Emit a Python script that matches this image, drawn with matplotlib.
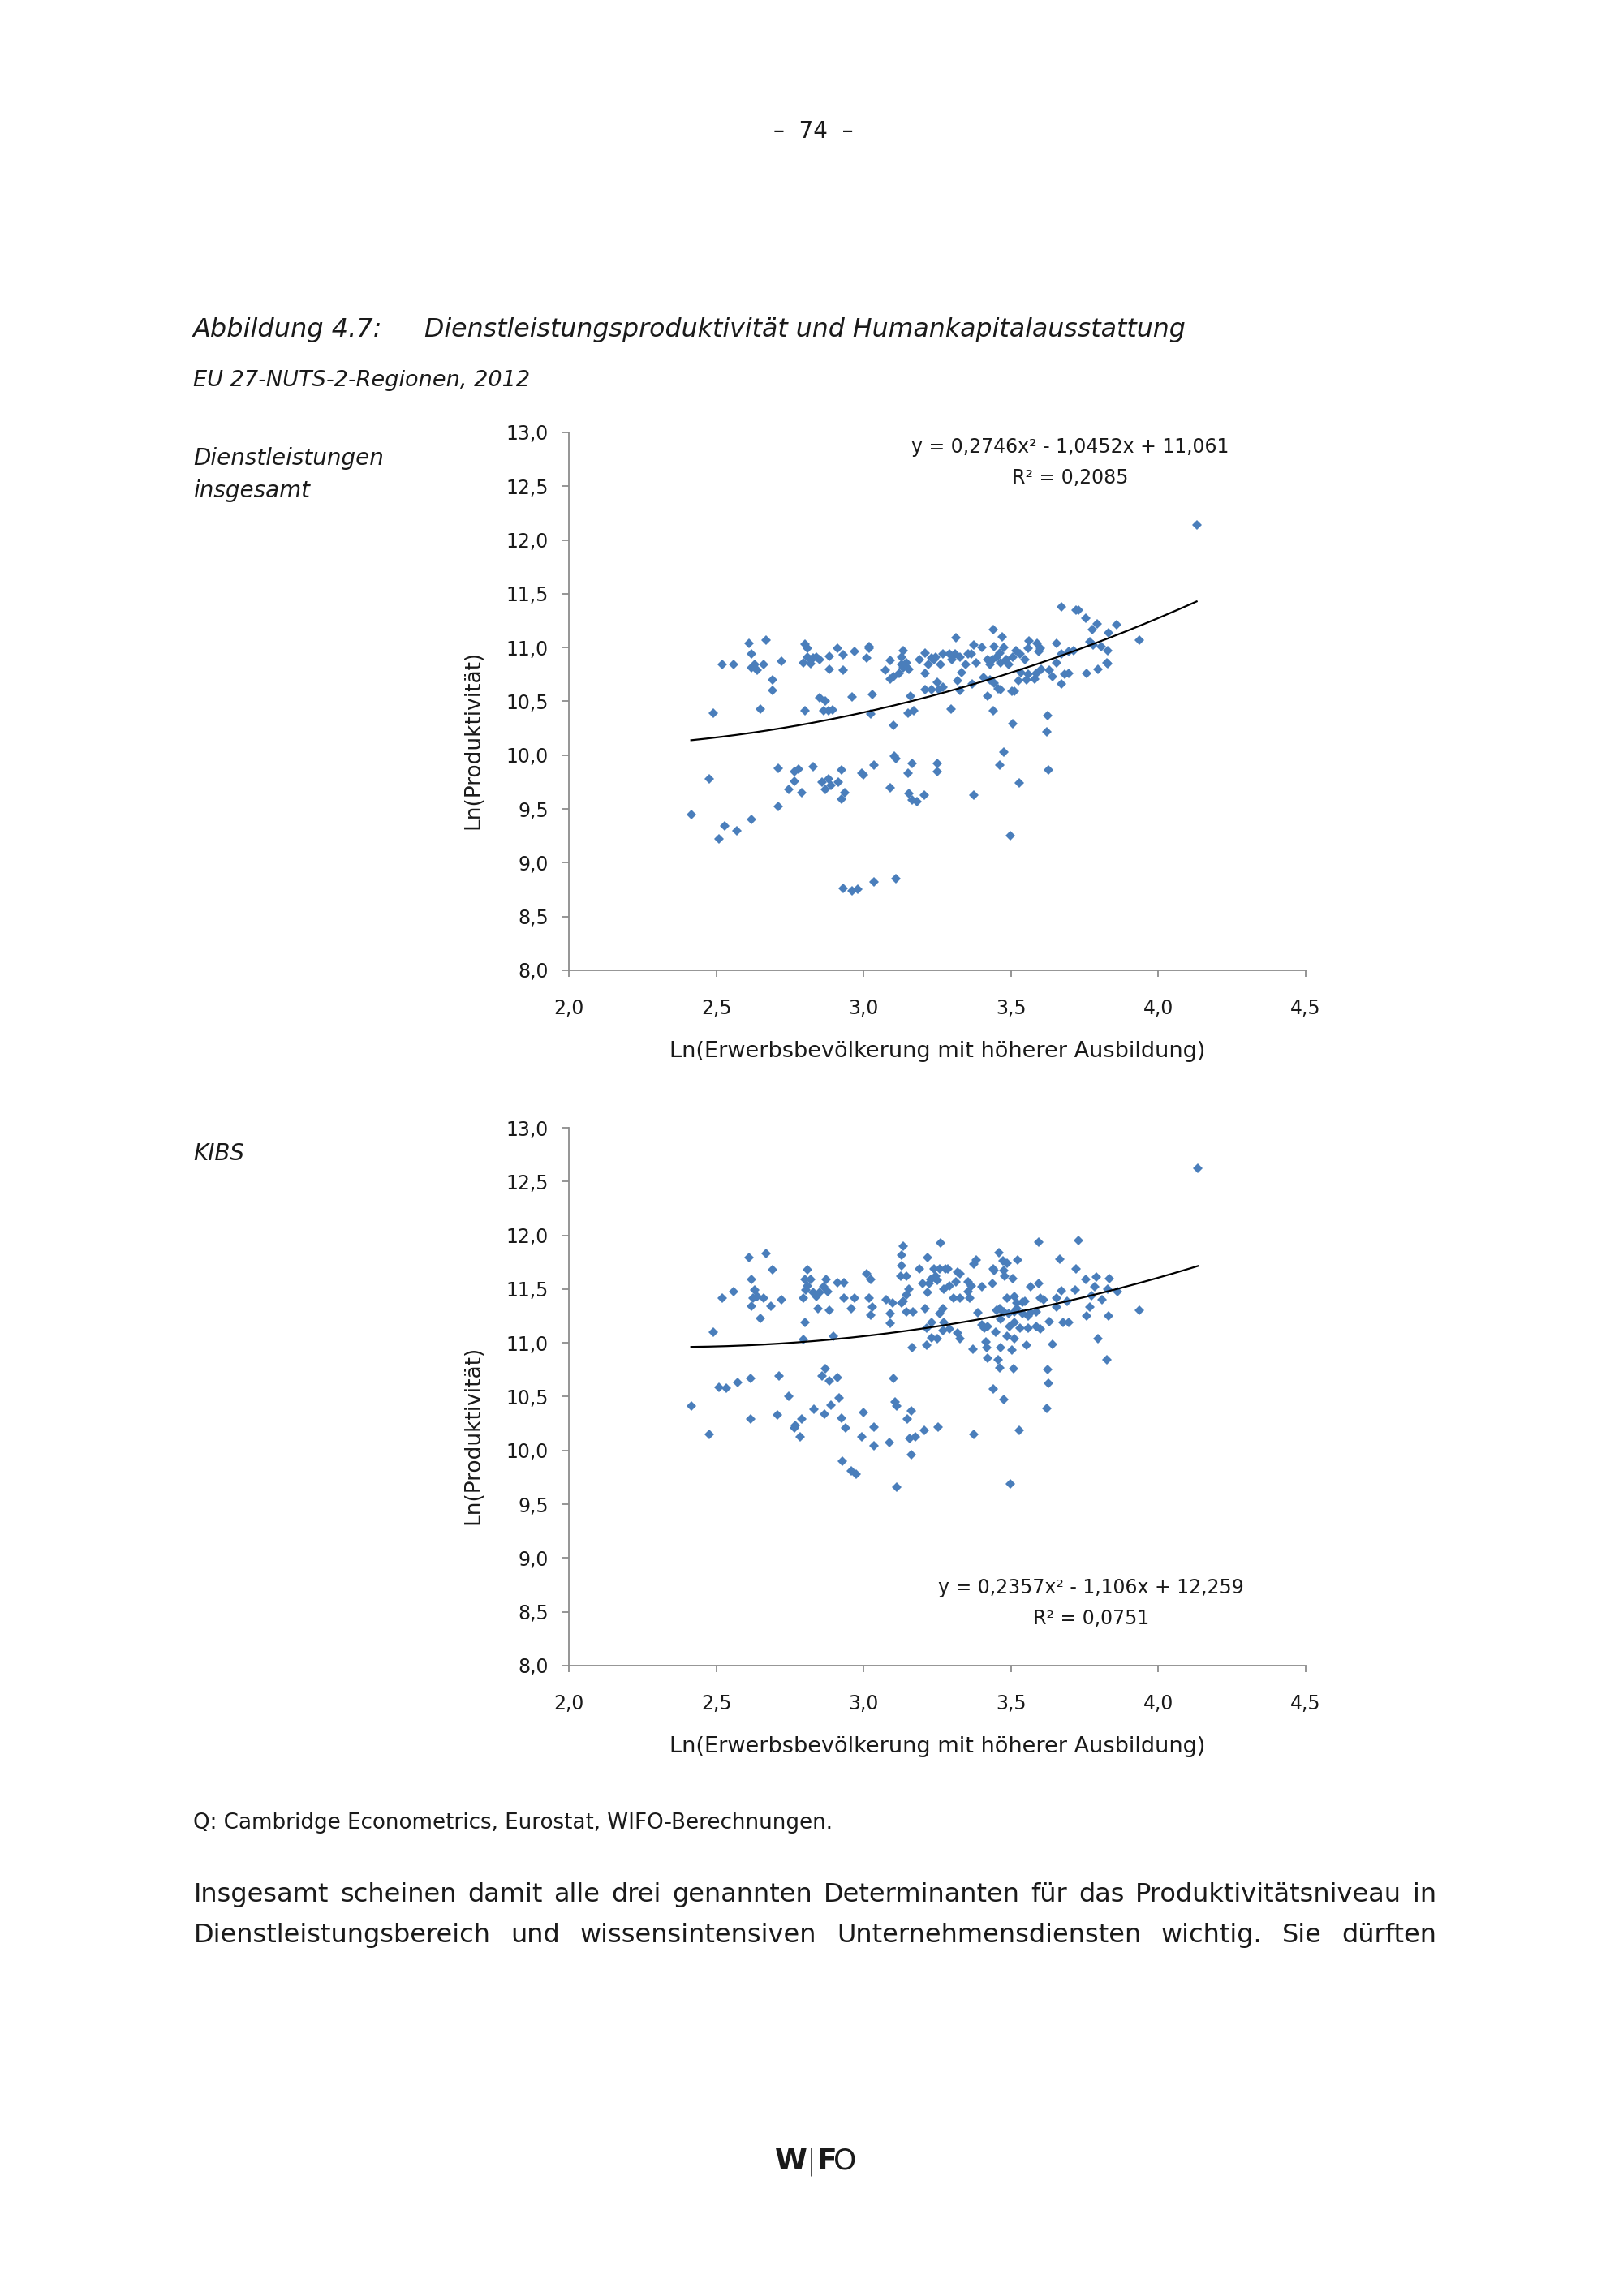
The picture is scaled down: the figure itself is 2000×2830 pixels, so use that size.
import numpy as np
import matplotlib.pyplot as plt
from matplotlib.ticker import FuncFormatter, MultipleLocator

plt.rcParams['font.family'] = ['DejaVu Sans']

# Dienstleistungen insgesamt: Ln(Erwerbsbevoelkerung mit hoeherer Ausbildung) vs Ln(Produktivitaet)
dl_x_upper = [2.61, 2.67, 2.80, 2.91, 3.02, 2.52, 2.56, 2.62, 2.62, 2.63, 2.64, 2.66, 2.72, 2.69, 2.69,
              2.795, 2.81, 2.81, 2.82, 2.83, 2.84, 2.85, 2.82, 2.885, 2.93, 2.97, 3.01, 3.02, 2.885, 2.93,
              3.09, 3.135, 3.13, 3.13, 3.135, 3.145, 3.155, 3.12, 3.09, 3.10, 3.075, 3.19, 3.21, 3.22, 3.23,
              3.24, 3.21, 3.245, 3.26, 3.27, 3.25, 3.21, 3.23, 3.255, 3.27]
dl_y_upper = [11.04, 11.07, 11.03, 10.99, 11.01, 10.84, 10.84, 10.94, 10.81, 10.84, 10.79, 10.84, 10.87, 10.70, 10.60,
              10.86, 10.99, 10.91, 10.89, 10.90, 10.91, 10.89, 10.85, 10.92, 10.93, 10.96, 10.90, 10.99, 10.80, 10.79,
              10.88, 10.97, 10.91, 10.84, 10.81, 10.86, 10.80, 10.76, 10.71, 10.73, 10.79, 10.89, 10.95, 10.84, 10.90,
              10.89, 10.76, 10.91, 10.84, 10.94, 10.68, 10.61, 10.61, 10.61, 10.63]
dl_x_mid = [2.49, 2.65, 2.80, 2.85, 2.87, 2.865, 2.88, 2.895, 2.96, 3.03, 3.025, 3.10, 3.16, 3.15, 3.17]
dl_y_mid = [10.39, 10.43, 10.41, 10.53, 10.50, 10.41, 10.41, 10.42, 10.54, 10.56, 10.38, 10.28, 10.55, 10.39, 10.41]
dl_x_low = [2.415, 2.475, 2.71, 2.765, 2.78, 2.83, 2.765, 2.745, 2.79, 2.71, 2.86, 2.88, 2.89, 2.915, 2.87,
            2.925, 2.995, 3.00, 3.035, 2.925, 2.935, 3.09, 3.105, 3.11, 3.165, 3.15, 3.155, 3.165, 3.18, 3.207,
            3.25, 3.25, 2.53, 2.57, 2.62, 2.51, 2.93, 2.96, 2.98, 3.035, 3.11]
dl_y_low = [9.45, 9.78, 9.88, 9.85, 9.87, 9.89, 9.76, 9.68, 9.65, 9.52, 9.75, 9.78, 9.72, 9.75, 9.68,
            9.86, 9.83, 9.82, 9.91, 9.59, 9.65, 9.70, 9.99, 9.97, 9.92, 9.83, 9.64, 9.58, 9.57, 9.63,
            9.92, 9.85, 9.34, 9.30, 9.40, 9.22, 8.76, 8.74, 8.75, 8.82, 8.85]
dl_x_right = [4.13, 3.67, 3.72, 3.73, 3.755, 3.776, 3.793, 3.858, 3.935, 3.83, 3.654, 3.768, 3.778, 3.805, 3.828,
              3.826, 3.828, 3.796, 3.757, 3.713, 3.695, 3.672, 3.656, 3.64, 3.631, 3.603, 3.594, 3.599, 3.589, 3.562,
              3.557, 3.548, 3.53, 3.516, 3.507, 3.493, 3.484, 3.475, 3.471, 3.44, 3.443, 3.452, 3.461, 3.465, 3.438,
              3.42, 3.429, 3.401, 3.374, 3.365, 3.383, 3.355, 3.346, 3.328, 3.314, 3.31, 3.30, 3.291,
              3.332, 3.319, 3.328, 3.369, 3.406, 3.429, 3.443, 3.456, 3.465, 3.502, 3.511, 3.534, 3.525, 3.553, 3.557,
              3.58, 3.585, 3.672, 3.681, 3.695, 3.42, 3.298, 3.44, 3.507, 3.624, 3.622, 3.477, 3.462, 3.626, 3.528,
              3.374, 3.498]
dl_y_right = [12.14, 11.38, 11.35, 11.35, 11.27, 11.17, 11.22, 11.21, 11.07, 11.14, 11.04, 11.05, 11.02, 11.01, 10.97,
              10.86, 10.85, 10.80, 10.76, 10.97, 10.96, 10.94, 10.86, 10.73, 10.79, 10.80, 10.96, 10.99, 11.04, 11.06,
              10.99, 10.89, 10.94, 10.97, 10.91, 10.84, 10.89, 11.00, 11.10, 11.17, 11.01, 10.91, 10.95, 10.86, 10.89,
              10.89, 10.84, 11.00, 11.02, 10.94, 10.86, 10.94, 10.84, 10.91, 11.09, 10.94, 10.89, 10.94,
              10.77, 10.69, 10.60, 10.66, 10.72, 10.70, 10.67, 10.62, 10.61, 10.59, 10.59, 10.77, 10.69, 10.70, 10.75,
              10.71, 10.76, 10.66, 10.75, 10.76, 10.55, 10.43, 10.41, 10.29, 10.37, 10.22, 10.03, 9.91, 9.86, 9.74,
              9.63, 9.25]

# KIBS
kibs_x_upper = [2.49, 2.52, 2.56, 2.61, 2.67, 2.69, 2.62, 2.63, 2.64, 2.625, 2.62, 2.66, 2.685, 2.65, 2.72,
                2.81, 2.80, 2.82, 2.81, 2.805, 2.795, 2.83, 2.84, 2.85, 2.846, 2.865, 2.874, 2.878, 2.885, 2.91,
                2.933, 2.933, 2.97, 2.958, 3.011, 3.025, 3.02, 3.03, 3.025, 2.80, 2.795, 2.897, 3.076, 3.099, 3.09,
                3.09, 3.135, 3.13, 3.13, 3.126, 3.144, 3.154, 3.144, 3.135, 3.13, 3.144, 3.167, 3.19, 3.218, 3.209,
                3.20, 3.222, 3.218, 3.227, 3.245, 3.25, 3.24, 3.259, 3.262, 3.273, 3.277, 3.259, 3.232, 3.213, 3.232,
                3.25, 3.268, 3.213, 3.165]
kibs_y_upper = [11.10, 11.42, 11.48, 11.79, 11.83, 11.68, 11.59, 11.49, 11.43, 11.42, 11.34, 11.42, 11.34, 11.23, 11.40,
                11.68, 11.59, 11.59, 11.53, 11.49, 11.42, 11.47, 11.43, 11.47, 11.32, 11.52, 11.59, 11.48, 11.30, 11.56,
                11.56, 11.42, 11.42, 11.32, 11.64, 11.59, 11.42, 11.33, 11.26, 11.19, 11.03, 11.06, 11.40, 11.37, 11.27,
                11.18, 11.90, 11.82, 11.72, 11.62, 11.62, 11.50, 11.45, 11.39, 11.37, 11.29, 11.29, 11.69, 11.79, 11.32,
                11.55, 11.55, 11.47, 11.59, 11.62, 11.58, 11.69, 11.69, 11.93, 11.50, 11.69, 11.27, 11.19, 11.14, 11.05,
                11.04, 11.115, 10.98, 10.96]
kibs_x_low = [2.415, 2.475, 2.51, 2.534, 2.572, 2.617, 2.617, 2.713, 2.707, 2.747, 2.765, 2.768, 2.784, 2.791, 2.832,
              2.866, 2.869, 2.86, 2.883, 2.912, 2.89, 2.917, 2.926, 2.938, 2.928, 2.958, 2.975, 2.995, 3.00, 3.034,
              3.034, 3.087, 3.10, 3.106, 3.112, 3.112, 3.147, 3.163, 3.156, 3.177, 3.161, 3.207, 3.253]
kibs_y_low = [10.41, 10.15, 10.59, 10.58, 10.63, 10.67, 10.29, 10.69, 10.33, 10.50, 10.21, 10.235, 10.13, 10.29, 10.38,
              10.34, 10.76, 10.69, 10.645, 10.68, 10.42, 10.49, 10.30, 10.21, 9.90, 9.81, 9.78, 10.13, 10.35, 10.22,
              10.04, 10.07, 10.67, 10.45, 10.41, 9.66, 10.29, 10.37, 10.11, 10.13, 9.96, 10.19, 10.22]
kibs_x_right = [4.134, 3.594, 3.73, 3.458, 3.381, 3.374, 3.473, 3.488, 3.523, 3.666, 3.721, 3.44, 3.443, 3.475, 3.479,
                3.507, 3.436, 3.401, 3.319, 3.328, 3.314, 3.355, 3.365, 3.355, 3.36, 3.305, 3.328, 3.291, 3.286, 3.566,
                3.594, 3.599, 3.612, 3.654, 3.672, 3.718, 3.69, 3.654, 3.755, 3.791, 3.833, 3.785, 3.773, 3.768, 3.81,
                3.828, 3.86, 3.935, 3.756, 3.83, 3.796, 3.826, 3.488, 3.511, 3.52, 3.539, 3.548, 3.452, 3.461, 3.475,
                3.493, 3.511, 3.52, 3.539, 3.557, 3.566, 3.585, 3.387, 3.401, 3.41, 3.42, 3.447, 3.465, 3.496, 3.511,
                3.53, 3.557, 3.585, 3.599, 3.631, 3.677, 3.695, 3.64, 3.553, 3.502, 3.465, 3.511, 3.488, 3.415, 3.418,
                3.372, 3.421, 3.456, 3.461, 3.508, 3.624, 3.626, 3.44, 3.477, 3.622, 3.528, 3.374, 3.498, 3.273, 3.291,
                3.319, 3.328, 3.268]
kibs_y_right = [12.62, 11.94, 11.95, 11.84, 11.77, 11.73, 11.76, 11.74, 11.77, 11.78, 11.69, 11.69, 11.67, 11.67, 11.62,
                11.60, 11.55, 11.52, 11.66, 11.64, 11.57, 11.57, 11.53, 11.48, 11.42, 11.42, 11.42, 11.53, 11.69, 11.52,
                11.555, 11.42, 11.40, 11.42, 11.485, 11.49, 11.39, 11.33, 11.59, 11.61, 11.60, 11.52, 11.44, 11.33, 11.40,
                11.50, 11.48, 11.30, 11.25, 11.25, 11.04, 10.84, 11.42, 11.43, 11.37, 11.38, 11.39, 11.30, 11.32, 11.29,
                11.27, 11.29, 11.32, 11.27, 11.25, 11.28, 11.29, 11.28, 11.17, 11.14, 11.15, 11.10, 11.22, 11.15, 11.19,
                11.14, 11.14, 11.15, 11.13, 11.20, 11.19, 11.19, 10.99, 10.98, 10.93, 10.96, 11.04, 11.06, 11.01, 10.96,
                10.94, 10.86, 10.84, 10.77, 10.76, 10.75, 10.625, 10.575, 10.475, 10.39, 10.185, 10.15, 9.69, 11.19, 11.13,
                11.09, 11.04, 11.32]

# polynomial trend lines (Excel)
dl_coef = [0.2746, -1.0452, 11.061]
kibs_coef = [0.2357, -1.106, 12.259]
dl_eq = ["y = 0,2746x² - 1,0452x + 11,061", "R² = 0,2085"]
kibs_eq = ["y = 0,2357x² - 1,106x + 12,259", "R² = 0,0751"]

dl_x = dl_x_upper + dl_x_mid + dl_x_low + dl_x_right
dl_y = dl_y_upper + dl_y_mid + dl_y_low + dl_y_right
kibs_x = kibs_x_upper + kibs_x_low + kibs_x_right
kibs_y = kibs_y_upper + kibs_y_low + kibs_y_right

fig = plt.figure(figsize=(20, 28.3), dpi=100)
fig.patch.set_facecolor('white')

comma = FuncFormatter(lambda v, p: f"{v:.1f}".replace('.', ','))
TXT = '#1a1a1a'


def panel(ax, x, y, coef, eq, eq_xy):
    ax.plot(x, y, 'D', color='#4A7EBB', markersize=6.0, markeredgewidth=0, zorder=2)
    xs = np.linspace(min(x), max(x), 200)
    ax.plot(xs, np.polyval(coef, xs), color='black', lw=1.6, zorder=3)
    ax.set_xlim(2.0, 4.5)
    ax.set_ylim(8.0, 13.0)
    ax.xaxis.set_major_locator(MultipleLocator(0.5))
    ax.yaxis.set_major_locator(MultipleLocator(0.5))
    ax.xaxis.set_major_formatter(comma)
    ax.yaxis.set_major_formatter(comma)
    for s in ['top', 'right']:
        ax.spines[s].set_visible(False)
    for s in ['left', 'bottom']:
        ax.spines[s].set_color('#8c8c8c')
        ax.spines[s].set_linewidth(1.3)
    ax.tick_params(axis='x', direction='out', length=6, width=1.3, color='#8c8c8c',
                   pad=19, labelsize=17, labelcolor=TXT)
    ax.tick_params(axis='y', direction='out', length=6, width=1.3, color='#8c8c8c',
                   pad=12, labelsize=17, labelcolor=TXT)
    ax.text(-0.13, 0.429, 'Ln(Produktivität)', rotation=90, ha='center', va='center',
            fontsize=19, color=TXT, transform=ax.transAxes)
    ax.text(0.5, -0.151, 'Ln(Erwerbsbevölkerung mit höherer Ausbildung)', ha='center', va='center',
            fontsize=19.5, color=TXT, transform=ax.transAxes)
    ax.text(eq_xy[0], eq_xy[1], eq[0], ha='center', va='center', fontsize=17,
            color=TXT, transform=ax.transAxes)
    ax.text(eq_xy[0], eq_xy[1] - 0.057, eq[1], ha='center', va='center', fontsize=17,
            color=TXT, transform=ax.transAxes)


ax1 = fig.add_axes([0.3505, 0.5774, 0.454, 0.2343])
panel(ax1, dl_x, dl_y, dl_coef, dl_eq, (0.68, 0.973))
ax2 = fig.add_axes([0.3505, 0.2746, 0.454, 0.2342])
panel(ax2, kibs_x, kibs_y, kibs_coef, kibs_eq, (0.709, 0.145))

# page texts
fig.text(0.501, 0.9428, '–  74  –', ha='center', va='center', fontsize=20, color=TXT)
fig.text(0.119, 0.8565, 'Abbildung 4.7:', ha='left', va='center', fontsize=23, style='italic', color=TXT)
fig.text(0.2615, 0.8565, 'Dienstleistungsproduktivität und Humankapitalausstattung', ha='left', va='center',
         fontsize=22.8, style='italic', color=TXT)
fig.text(0.119, 0.8343, 'EU 27-NUTS-2-Regionen, 2012', ha='left', va='center', fontsize=19.5,
         style='italic', color=TXT)
fig.text(0.119, 0.8004, 'Dienstleistungen', ha='left', va='center', fontsize=20, style='italic', color=TXT)
fig.text(0.119, 0.7862, 'insgesamt', ha='left', va='center', fontsize=20, style='italic', color=TXT)
fig.text(0.119, 0.4975, 'KIBS', ha='left', va='center', fontsize=20, style='italic', color=TXT)
fig.text(0.119, 0.206, 'Q: Cambridge Econometrics, Eurostat, WIFO-Berechnungen.', ha='left', va='center',
         fontsize=18.8, color=TXT)

body = ["Insgesamt scheinen damit alle drei genannten Determinanten für das Produktivitätsniveau in",
        "Dienstleistungsbereich und wissensintensiven Unternehmensdiensten wichtig. Sie dürften"]
renderer = fig.canvas.get_renderer()
for line, yy in zip(body, [0.1746, 0.1569]):
    words = line.split()
    texts = [fig.text(0.119, yy, w, ha='left', va='center', fontsize=23, color=TXT) for w in words]
    widths = [t.get_window_extent(renderer).width for t in texts]
    x0, x1 = 0.1195 * fig.bbox.width, 0.885 * fig.bbox.width
    gap = (x1 - x0 - sum(widths)) / (len(words) - 1)
    pos = x0
    for t, w in zip(texts, widths):
        t.set_x(pos / fig.bbox.width)
        pos += w + gap

# WIFO logo
fig.text(0.4775, 0.0587, 'W', ha='left', va='center', fontsize=26, weight='bold', color=TXT)
fig.text(0.5, 0.0587, '|', ha='center', va='center', fontsize=26, weight='light', color=TXT)
fig.text(0.5035, 0.0587, 'F', ha='left', va='center', fontsize=26, weight='bold', color=TXT)
fig.text(0.5135, 0.0587, 'O', ha='left', va='center', fontsize=26, weight='normal', color=TXT)

fig.savefig('out.png', dpi=100, facecolor='white')
